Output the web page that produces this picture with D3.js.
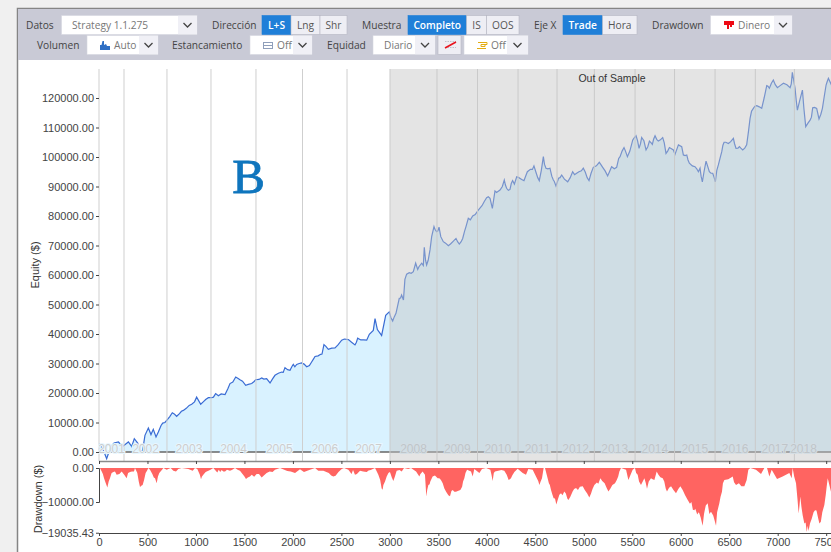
<!DOCTYPE html>
<html>
<head>
<meta charset="utf-8">
<script src="https://cdn.jsdelivr.net/npm/d3@7"></script>
<style>
  html, body { margin: 0; padding: 0; background: #f0f0f0; overflow: hidden; }
  svg { display: block; }
</style>
</head>
<body>
<svg id="chart" width="831" height="552"></svg>
<script>
// equity curve: [trade number] / [$]
var eqTrades = [3,45,79,120,155,200,244,303,337,364,399,423,450,474,509,536,560,588,612,657,705,756,801,870,956,1007,1049,1128,1162,1203,1231,1300,1351,1410,1454,1513,1575,1616,1678,1729,1764,1815,1884,1918,1970,2004,2039,2090,2142,2193,2228,2286,2320,2365,2434,2503,2572,2640,2668,2761,2788,2829,2847,2871,2915,2957,2994,3029,3063,3097,3121,3140,3173,3242,3266,3287,3328,3355,3379,3414,3431,3455,3482,3507,3551,3603,3682,3716,3751,3785,3809,3854,3912,3998,4033,4057,4084,4136,4180,4204,4239,4266,4284,4308,4383,4418,4486,4541,4583,4610,4651,4686,4713,4772,4834,4885,4926,4995,5054,5098,5160,5195,5246,5287,5339,5374,5415,5450,5505,5539,5570,5597,5642,5677,5707,5735,5769,5814,5848,5883,5924,5941,5976,6010,6027,6062,6089,6147,6182,6199,6223,6261,6295,6330,6357,6388,6423,6447,6491,6543,6570,6605,6639,6680,6715,6749,6784,6835,6887,6914,6955,6997,7059,7128,7151,7179,7203,7255,7289,7334,7361,7402,7426,7461,7499,7523,7560];
var eqValues = [2800,560,-2300,1700,3050,3400,1900,3400,1900,4500,3050,0,560,5650,8100,5900,7700,5100,6800,9800,11000,13300,12100,14100,16200,18600,16200,18400,18400,19800,19100,19500,23200,25400,24500,22600,23200,24500,25100,24900,23400,26000,27100,28600,27700,29700,29700,30200,28900,30500,32400,33100,36400,34800,35300,37900,38100,36300,38600,37900,39900,41200,45200,41500,39500,46300,47500,44400,47000,52100,53200,51500,60300,61100,64000,61900,64000,69400,63400,68500,73000,76400,74700,76200,71300,69900,72400,70500,72400,76400,79200,80000,82000,86200,86000,82600,88500,88800,92200,89400,89000,92000,90800,93300,92000,95000,97000,92000,100100,96200,96200,92200,90200,93900,91600,95000,94500,96200,92000,96500,98200,96500,93600,96700,96500,100100,103200,100100,105800,107200,102900,106600,102400,105400,104300,107200,105400,106600,101200,103200,102400,100900,104100,103500,100700,100700,97900,96700,95000,96200,91600,98600,95000,94500,91600,97300,101800,105000,104600,106300,102900,103500,102400,104100,113100,116500,117400,116500,124200,123300,126100,123500,125000,123500,128700,123300,115900,122700,110300,112500,116700,116500,112900,116500,124400,126700,124000];

// finer wiggles on the equity curve, merged in by trade number
var eqFineTrades = [640,680,730,780,830,850,900,930,985,1075,1100,1180,1260,1330,1380,1435,1480,1540,1600,1650,1700,1745,1790,1850,1900,1945,1990,2020,2065,2115,2170,2210,2260,2300,2340,2400,2465,2530,2605,2655,2700,2730,3010,3045,3080,3110,3155,3200,3220,3300,3345,3368,3395,3465,3495,3525,3575,3625,3655,3700,3735,3770,3830,3880,3950,3975,4015,4100,4160,4192,4222,4252,4330,4360,4400,4450,4470,4505,4525,4562,4595,4630,4670,4695,4740,4755,4800,4860,4905,4950,4975,5015,5035,5075,5130,5175,5220,5265,5315,5360,5395,5430,5475,5520,5555,5585,5620,5660,5695,5720,5752,5790,5830,5865,5900,6045,6075,6120,6165,6210,6240,6278,6312,6345,6372,6405,6435,6465,6515,6555,6590,6620,6660,6698,6730,6765,6810,6860,6900,6935,6975,7025,7095,7140,7165,7192,7230,7270,7312,7348,7380,7445,7480,7510];
var eqFineValues = [9000,10000,12000,12800,13000,13800,14800,15800,17000,17000,17800,18600,19700,21500,23700,24900,24000,22900,23900,24600,24700,24200,24800,26700,27000,27900,29000,28900,30000,29800,29300,31400,32600,33200,35800,35200,36300,38300,37200,37200,38000,38000,45600,45800,49500,52200,58500,60800,60600,62800,63200,65000,65000,75500,75000,73000,70800,70500,71500,71200,71300,74800,78700,80500,83500,85000,86500,88000,90000,90500,88700,91000,93000,92400,93500,95800,95800,95000,93000,95500,97500,96000,93500,91800,92800,93000,92500,93000,94000,95000,95300,94900,93000,94500,97000,97500,95300,95000,96000,99500,102000,102000,102000,106500,105500,104500,105500,103500,104800,106000,106000,105800,104800,102000,102900,100500,99000,97000,96000,93500,95000,96800,94500,93000,95500,99500,104000,105000,105200,104500,103000,103000,103000,108500,115500,117200,117000,120000,124000,125000,124500,124200,124500,124800,126000,119000,119500,116500,111500,113500,116800,114500,120500,125500];

// drawdown: [trade number] / [$]
var ddTrades = [10,28,52,86,113,148,182,234,285,320,361,371,395,423,450,481,509,526,578,595,622,650,664,698,739,767,794,818,853,921,966,990,1014,1052,1076,1128,1179,1220,1282,1351,1403,1454,1516,1557,1626,1678,1729,1815,1867,1942,1977,2022,2073,2114,2176,2228,2262,2314,2417,2503,2527,2572,2640,2692,2761,2802,2847,2881,2915,2933,2967,3001,3036,3070,3122,3146,3190,3218,3270,3304,3338,3362,3376,3397,3417,3441,3493,3527,3562,3603,3648,3682,3727,3768,3796,3837,3854,3871,3923,3950,3992,4036,4060,4084,4180,4225,4249,4284,4318,4370,4404,4428,4473,4507,4542,4569,4586,4600,4627,4662,4689,4717,4748,4799,4841,4885,4920,4989,5057,5109,5171,5254,5322,5367,5384,5436,5460,5504,5528,5556,5590,5625,5652,5693,5728,5752,5814,5858,5900,5951,5996,6072,6140,6192,6226,6278,6312,6364,6398,6450,6536,6570,6656,6697,6718,6776,6828,6862,6890,6914,6938,6993,7051,7120,7144,7154,7189,7216,7233,7275,7299,7333,7385,7430,7481,7516,7550];
var ddValues = [0,-1000,-3000,-5700,-3000,-1200,-2000,-1000,-3000,-1200,-1000,0,-1500,-5600,-5000,-1500,0,-500,-3000,-4500,-1500,-500,0,-500,0,-800,-1000,-300,0,-300,-800,0,-300,-3300,-2000,-800,0,-1300,-1000,-800,0,-800,-3200,-2500,-1800,-2800,-1500,-500,0,-900,-1000,-1500,-400,-1200,-500,0,-800,-800,-2500,-300,0,-500,-2000,-800,-1200,-600,0,-2000,-6000,-5000,-2500,-1200,-3800,-800,-1000,0,-300,0,-1000,-2500,-1000,-2000,-8400,-5000,-4000,-2500,-3000,-3500,-6000,-8000,-6500,-7000,-6500,-3000,-500,-1000,-2500,-300,-1500,-300,0,-500,-3800,-1000,-800,-3500,-3000,-1200,-200,-1500,-2000,-300,-500,-2500,-5000,-3000,0,0,-3000,-6500,-8900,-10700,-7900,-6900,-9400,-6900,-5900,-5400,-8700,-5000,-3000,-6900,-4500,-1000,0,-500,-3500,-500,0,-2000,-5000,-3000,-6100,-3000,-3500,-1000,-3000,-6900,-5400,-7400,-5400,-9400,-12400,-13400,-17000,-10400,-12900,-17000,-10400,-3500,-2500,-5000,-5400,-500,0,-500,-1800,0,0,-2500,-500,-3200,-2500,-1500,-3000,0,-4500,-13400,-8400,-16300,-18800,-16300,-12400,-16300,-10900,-3000,-7000];

// finer spikes on the drawdown, merged in by trade number
var ddFineTrades = [40,70,100,130,165,210,260,300,340,410,436,465,495,550,565,608,1040,1062,1100,1150,1235,1250,1265,1300,1320,1370,1430,1480,1500,1535,1575,1600,1650,1700,1760,1790,2370,2395,2440,2470,2605,2620,2660,2725,2780,2865,2900,2925,2950,2985,3020,3052,3100,3315,3385,3410,3465,3510,3545,3580,3620,3635,3665,3700,3745,3755,3780,4048,4072,4150,4205,4237,4262,4530,4555,4640,4650,4675,4703,4730,4765,4780,4815,4830,4860,4900,4940,4960,5010,5035,5075,5090,5135,5150,5190,5215,5235,5275,5295,5340,5355,5540,5570,5640,5670,5710,5770,5790,5830,5845,5880,5925,5975,6020,6045,6095,6110,6125,6150,6170,6185,6205,6240,6258,6295,6335,6350,6375,6410,6425,6435,6490,6520,6550,6600,6625,6680,7170,7205,7225,7245,7258,7288,7310,7318,7350,7370,7400,7415,7445,7460,7495,7505];
var ddFineValues = [-1800,-4500,-4000,-1500,-1000,-1800,-2000,-1500,-1000,-4000,-5200,-3500,-800,-1800,-2800,-2500,-2000,-2500,-1200,-500,-500,-1200,-600,-1000,-500,-600,-500,-1800,-2500,-2800,-2000,-2600,-1800,-2200,-1000,-1200,-1500,-2200,-2300,-1200,-1800,-600,-1800,-1000,-700,-1000,-3500,-6400,-4000,-1500,-2800,-2500,-600,-1800,-6500,-4800,-2200,-3000,-4500,-7000,-8300,-6800,-7000,-6800,-5500,-4000,-1500,-2000,-1500,-600,-2000,-3300,-2200,-3800,-4000,-4500,-5000,-7700,-9000,-9500,-7400,-8000,-7500,-9000,-8500,-6200,-6500,-5500,-6500,-7500,-7500,-6200,-4300,-4600,-3800,-4500,-5800,-6000,-5000,-3500,-2500,-1500,-4000,-4500,-4000,-3300,-2000,-2700,-4000,-6000,-5800,-6500,-6200,-6500,-8000,-10500,-10000,-12300,-12000,-13700,-13000,-14500,-13500,-11000,-13500,-14000,-15500,-13000,-8500,-7000,-4500,-3300,-2800,-4200,-4500,-5400,-3500,-2500,-9500,-11000,-11500,-14000,-16000,-17000,-18500,-15000,-13000,-12500,-14500,-15800,-13000,-8000,-5500];

// year bands: the trade where each one starts
var yearLabels = [2001,2002,2003,2004,2005,2006,2007,2008,2009,2010,2011,2012,2013,2014,2015,2016,2017,2018];
var yearStarts = [0,258,701,1155,1619,2099,2558,3001,3486,3904,4322,4724,5109,5529,5936,6354,6769,7172,7360];

var oosStart = 3001;
var xTicks = d3.range(0, 7501, 500);
var eqTicks = d3.range(0, 120001, 10000);
var ddTicks = [0, -10000, -19035.43];

var svg = d3.select("#chart");
var chartFont = "'Liberation Sans', Arial, sans-serif";
var uiFont = "'Open Sans', sans-serif";

var x = d3.scaleLinear().domain([0, 7000]).range([99, 777.7]);
var y = d3.scaleLinear().domain([0, 120000]).range([452, 98]);
var yDD = d3.scaleLinear().domain([0, -10000]).range([468, 502]);

function mergePoints(ts, vs, fineTs, fineVs) {
  var pts = ts.map(function (t, i) { return [t, vs[i]]; })
    .concat(fineTs.map(function (t, i) { return [t, fineVs[i]]; }));
  return pts.sort(function (a, b) { return a[0] - b[0]; });
}
var equity = mergePoints(eqTrades, eqValues, eqFineTrades, eqFineValues);
var drawdown = mergePoints(ddTrades, ddValues, ddFineTrades, ddFineValues);

// page frame
svg.append("rect").attr("x", 18).attr("y", 9).attr("width", 813).attr("height", 543).attr("fill", "white");
svg.append("path").attr("d", "M17.5,552V8.5H831").attr("fill", "none").attr("stroke", "#858585").attr("stroke-width", 1.5);

// equity area and line
var eqArea = d3.area().x(function (d) { return x(d[0]); }).y0(y(0)).y1(function (d) { return y(d[1]); });
var eqLine = d3.line().x(function (d) { return x(d[0]); }).y(function (d) { return y(d[1]); });

svg.append("path").datum(equity).attr("d", eqArea).attr("fill", "#d9f2ff");
svg.append("path").datum(equity).attr("d", eqLine)
  .attr("fill", "none").attr("stroke", "#3a6cd4").attr("stroke-width", 1.2);

// zero line
svg.append("line").attr("x1", x(0)).attr("x2", 831).attr("y1", y(0)).attr("y2", y(0))
  .attr("stroke", "#666").attr("stroke-width", 1.5);

// year separators
svg.append("g").selectAll("line")
  .data(yearStarts.slice(0, 18))
  .enter()
  .append("line")
  .attr("x1", function (d) { return x(d); })
  .attr("x2", function (d) { return x(d); })
  .attr("y1", 69)
  .attr("y2", 461)
  .attr("stroke", "#cfcfcf")
  .attr("stroke-width", 1);

// out of sample shade goes over everything above
svg.append("rect")
  .attr("x", x(oosStart)).attr("y", 69)
  .attr("width", 831 - x(oosStart)).attr("height", 392)
  .attr("fill", "rgb(195,195,195)").attr("fill-opacity", 0.45);

// year labels, sit on the zero line
svg.append("g").selectAll("text")
  .data(yearLabels)
  .enter()
  .append("text")
  .attr("x", function (d, i) { return (x(yearStarts[i]) + x(yearStarts[i + 1])) / 2; })
  .attr("y", 453)
  .attr("text-anchor", "middle")
  .style("font-family", chartFont)
  .style("font-size", "12px")
  .style("fill", function (d, i) { return i < 7 ? "#cdcdcd" : "#bfc5c9"; })
  .style("stroke", function (d, i) { return i < 7 ? "#e8f7ff" : "#d4dee4"; })
  .style("stroke-width", 2)
  .style("paint-order", "stroke")
  .text(function (d) { return d; });

svg.append("text").attr("x", 612).attr("y", 82).attr("text-anchor", "middle")
  .style("font-family", chartFont).style("font-size", "10.5px").style("fill", "#333")
  .text("Out of Sample");

// drawdown area
var ddArea = d3.area().x(function (d) { return x(d[0]); }).y0(yDD(0)).y1(function (d) { return yDD(d[1]); });
svg.append("path").datum(drawdown).attr("d", ddArea).attr("fill", "#ff6461");

// axes
function styleAxis(g) {
  g.selectAll("text").style("font-family", chartFont).style("font-size", "11px").style("fill", "#444");
  g.selectAll("line").attr("stroke", "#444");
  g.selectAll(".domain").attr("stroke", "#444");
}

svg.append("g").attr("transform", "translate(99,0)")
  .call(d3.axisLeft(y).tickValues(eqTicks).tickSize(3).tickPadding(2).tickFormat(d3.format(".2f")))
  .call(function (g) { g.select(".domain").remove(); })
  .call(styleAxis);

svg.append("g").attr("transform", "translate(0,461)")
  .call(d3.axisBottom(x).tickValues(xTicks).tickSize(3).tickFormat(""))
  .call(styleAxis)
  .call(function (g) { g.select(".domain").attr("d", "M99,0.5H831").attr("stroke", "#8a8a8a").attr("stroke-width", 1.5); });

svg.append("g").attr("transform", "translate(99,0)")
  .call(d3.axisLeft(yDD).tickValues(ddTicks).tickSize(3).tickPadding(2).tickFormat(d3.format(".2f")))
  .call(styleAxis);

svg.append("g").attr("transform", "translate(0,533)")
  .call(d3.axisBottom(x).tickValues(xTicks).tickSize(3).tickPadding(2).tickFormat(d3.format("d")))
  .call(function (g) { g.select(".domain").attr("d", "M99,0.5H831"); })
  .call(styleAxis);

svg.append("text").attr("transform", "translate(39,265) rotate(-90)").attr("text-anchor", "middle")
  .style("font-family", chartFont).style("font-size", "11px").style("fill", "#333").text("Equity ($)");
svg.append("text").attr("transform", "translate(42,499) rotate(-90)").attr("text-anchor", "middle")
  .style("font-family", chartFont).style("font-size", "11px").style("fill", "#333").text("Drawdown ($)");

svg.append("text").attr("x", 248.5).attr("y", 193).attr("text-anchor", "middle")
  .style("font-family", "'Liberation Serif', serif")
  .style("font-size", "49px").style("fill", "#0f75bd")
  .style("stroke", "#0f75bd").style("stroke-width", 0.8).text("B");

// toolbar
svg.append("rect").attr("x", 18).attr("y", 9).attr("width", 813).attr("height", 51).attr("fill", "#c9cad6");

var toolLabels = [
  ["Datos", 26, 25], ["Dirección", 212, 25], ["Muestra", 362, 25], ["Eje X", 534, 25], ["Drawdown", 652, 25],
  ["Volumen", 37, 45], ["Estancamiento", 172, 45], ["Equidad", 327, 45]
];
// text, left, right, row centre, selected
var toolButtons = [
  ["L+S", 262, 291, 25, true], ["Lng", 291, 320, 25, false], ["Shr", 320, 347, 25, false],
  ["Completo", 408, 466.5, 25, true], ["IS", 466.5, 486.5, 25, false], ["OOS", 486.5, 519, 25, false],
  ["Trade", 563, 602.5, 25, true], ["Hora", 602.5, 637, 25, false],
  ["", 438, 461, 45, false]
];
// text, left, right of box, start of chevron, text x, row centre, icon
var toolSelects = [
  ["Strategy 1.1.275", 61.5, 197, 178, 72, 25, null],
  ["Dinero", 710.5, 792, 774, 738, 25, "drop"],
  ["Auto", 87, 158, 139, 114, 45, "bars"],
  ["Off", 250, 312, 293, 277, 45, "flat"],
  ["Diario", 373, 435, 415, 384, 45, null],
  ["Off", 464, 528, 507, 491, 45, "box"]
];
var iconPaths = {
  drop: { d: "M0,0H10V4H8V6H6V4H5V8H3V4H0Z", fill: "#ee0a14", stroke: "none" },
  bars: { d: "M0,9V4H1.5L2.5,0H4V4L6,3L7,5H10V9Z", fill: "#2f6fc4", stroke: "none" },
  flat: { d: "M0,1.5H10M0,4.5H10M0,7.5H10M0.5,1.5V7.5M9.5,1.5V7.5", fill: "none", stroke: "#8f9fba" },
  box: { d: "M1,1.5H10V3.5H4V5.5H8V3.5M0,7.5H9", fill: "none", stroke: "#e3ac12" }
};

var uiText = function (sel) {
  return sel.style("font-family", uiFont).style("font-size", "10.2px").attr("dominant-baseline", "central");
};

svg.append("g").selectAll("text").data(toolLabels).enter().append("text")
  .attr("x", function (d) { return d[1]; })
  .attr("y", function (d) { return d[2]; })
  .call(uiText).style("fill", "#444")
  .text(function (d) { return d[0]; });

var btn = svg.append("g").selectAll("g").data(toolButtons).enter().append("g");
btn.append("rect")
  .attr("x", function (d) { return d[1]; })
  .attr("y", function (d) { return d[3] - 9.5; })
  .attr("width", function (d) { return d[2] - d[1]; })
  .attr("height", 19)
  .attr("fill", function (d) { return d[4] ? "#1f7fd8" : "#eeeef4"; })
  .attr("stroke", function (d) { return d[4] ? "#1f7fd8" : "#b5b6c2"; })
  .attr("stroke-width", 0.6);
btn.append("text")
  .attr("x", function (d) { return (d[1] + d[2]) / 2; })
  .attr("y", function (d) { return d[3]; })
  .attr("text-anchor", "middle")
  .call(uiText)
  .style("font-weight", function (d) { return d[4] ? 600 : 400; })
  .style("fill", function (d) { return d[4] ? "white" : "#555"; })
  .text(function (d) { return d[0]; });

// red slash on the lone icon button
svg.append("path").attr("d", "M445,41.5H456M445,47.5H456").attr("stroke", "#b5b5c0").attr("stroke-width", 0.8)
  .attr("stroke-dasharray", "1.5,1").attr("fill", "none");
svg.append("path").attr("d", "M445,48L456,42").attr("stroke", "#e8121c").attr("stroke-width", 1.6).attr("fill", "none");

var sel = svg.append("g").selectAll("g").data(toolSelects).enter().append("g");
sel.append("rect")
  .attr("x", function (d) { return d[1]; })
  .attr("y", function (d) { return d[5] - 9.5; })
  .attr("width", function (d) { return d[2] - d[1]; })
  .attr("height", 19)
  .attr("fill", "white")
  .attr("stroke", "#d5d6df")
  .attr("stroke-width", 0.6);
sel.append("rect")
  .attr("x", function (d) { return d[3]; })
  .attr("y", function (d) { return d[5] - 9.2; })
  .attr("width", function (d) { return d[2] - d[3]; })
  .attr("height", 18.4)
  .attr("fill", "#f0f0f6");
sel.append("path")
  .attr("d", function (d) {
    var c = (d[3] + d[2]) / 2;
    return "M" + (c - 4) + "," + (d[5] - 2) + "l4,4l4,-4";
  })
  .attr("fill", "none").attr("stroke", "#444").attr("stroke-width", 1.3);
sel.append("text")
  .attr("x", function (d) { return d[4]; })
  .attr("y", function (d) { return d[5]; })
  .call(uiText)
  .style("fill", "#777")
  .text(function (d) { return d[0]; });
// small icon in front of the select text
sel.filter(function (d) { return d[6]; }).append("path")
  .attr("transform", function (d) { return "translate(" + (d[4] - 14) + "," + (d[5] - 4) + ")"; })
  .attr("d", function (d) { return iconPaths[d[6]].d; })
  .attr("fill", function (d) { return iconPaths[d[6]].fill; })
  .attr("stroke", function (d) { return iconPaths[d[6]].stroke; });
</script>
</body>
</html>
